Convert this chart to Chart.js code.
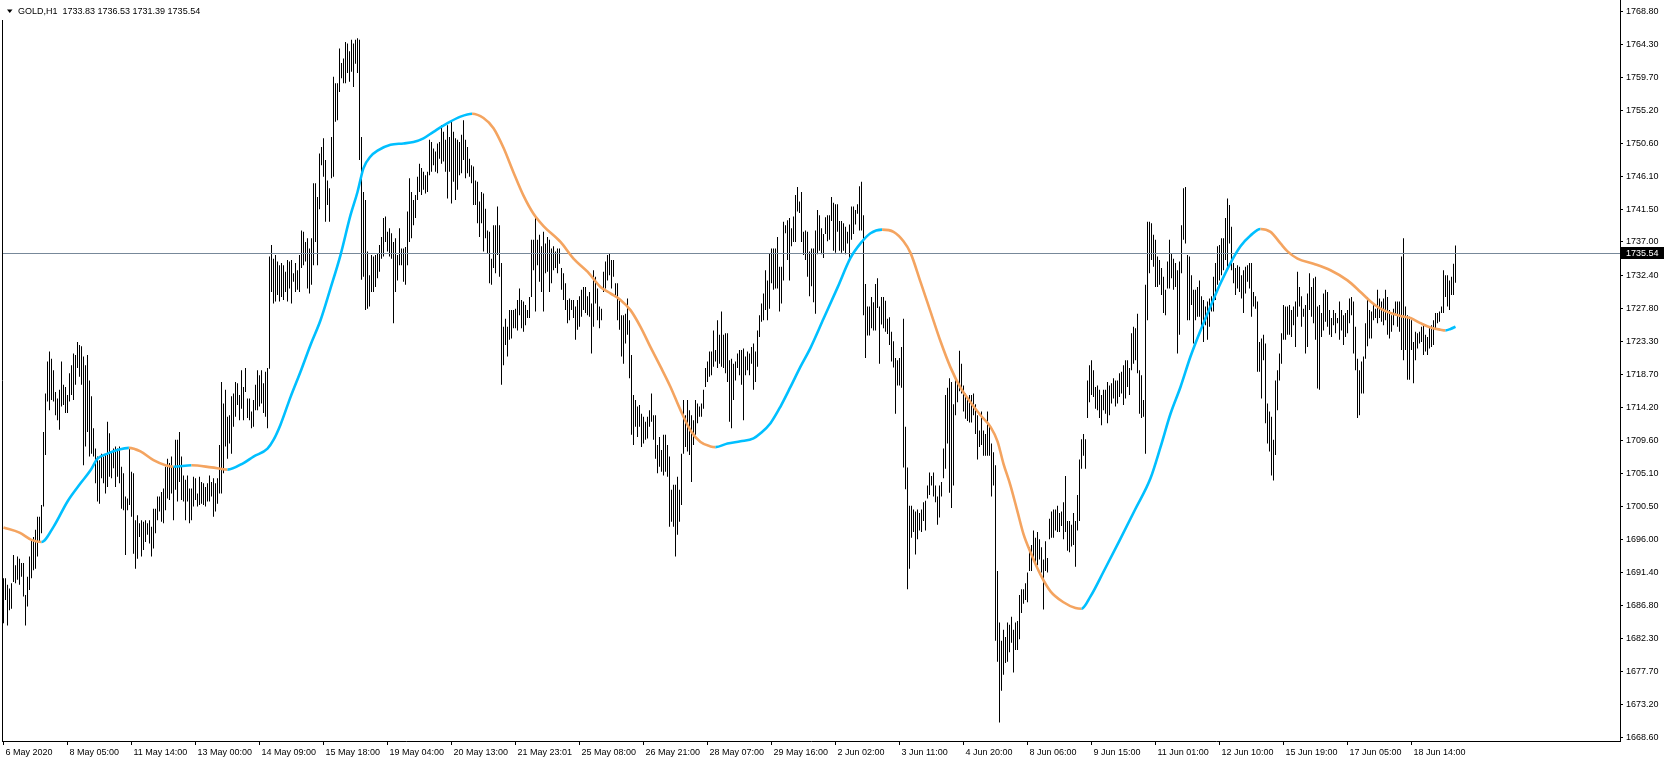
<!DOCTYPE html>
<html>
<head>
<meta charset="utf-8">
<title>GOLD,H1</title>
<script src="https://cdn.jsdelivr.net/npm/chart.js@4.4.1/dist/chart.umd.min.js"></script>
<style>
  html, body { margin: 0; padding: 0; background: #fff; }
  #wrap { width: 1666px; height: 761px; }
</style>
</head>
<body>
<div id="wrap"><canvas id="chart" width="1666" height="761"></canvas></div>
<script>
// header line and last price
const symbolTitle = 'GOLD,H1  1733.83 1736.53 1731.39 1735.54';
const lastPrice = 1735.54;

// time axis labels, one every 32 hourly bars
const xLabels = ['6 May 2020', '8 May 05:00', '11 May 14:00', '13 May 00:00', '14 May 09:00',
  '15 May 18:00', '19 May 04:00', '20 May 13:00', '21 May 23:01', '25 May 08:00', '26 May 21:00',
  '28 May 07:00', '29 May 16:00', '2 Jun 02:00', '3 Jun 11:00', '4 Jun 20:00', '8 Jun 06:00',
  '9 Jun 15:00', '11 Jun 01:00', '12 Jun 10:00', '15 Jun 19:00', '17 Jun 05:00', '18 Jun 14:00'];

// price axis labels
const yTicks = [1768.80, 1764.30, 1759.70, 1755.20, 1750.60, 1746.10, 1741.50, 1737.00, 1732.40,
  1727.80, 1723.30, 1718.70, 1714.20, 1709.60, 1705.10, 1700.50, 1696.00, 1691.40, 1686.80,
  1682.30, 1677.70, 1673.20, 1668.60];

// hourly bar highs
const highs = [
  1690.6, 1690.6, 1689.7, 1689.2, 1689.9, 1693.8, 1692.4, 1693.6, 1693.3, 1692.7,
  1692.7, 1688.3, 1690.8, 1693.6, 1695.9, 1696.3, 1697.3, 1699.1, 1699.1, 1700.7,
  1710.8, 1716.1, 1720.5, 1721.9, 1720.9, 1719.3, 1716.3, 1715.4, 1716.6, 1720.5,
  1717.3, 1717.0, 1715.9, 1718.9, 1720.0, 1721.6, 1721.4, 1723.2, 1722.8, 1722.6,
  1721.2, 1720.0, 1721.4, 1717.9, 1715.7, 1711.3, 1708.5, 1707.4, 1706.9, 1707.8,
  1707.4, 1707.6, 1712.2, 1710.6, 1708.1, 1708.5, 1708.8, 1708.5, 1708.8, 1706.0,
  1705.1, 1701.9, 1701.6, 1708.5, 1705.3, 1705.1, 1698.6, 1699.3, 1698.2, 1698.6,
  1698.4, 1698.6, 1698.2, 1698.6, 1697.7, 1700.2, 1700.2, 1701.9, 1701.9, 1702.5,
  1703.0, 1706.0, 1707.1, 1706.5, 1707.4, 1706.0, 1709.7, 1709.7, 1710.8, 1707.4,
  1704.8, 1704.2, 1704.8, 1703.0, 1703.0, 1704.6, 1704.4, 1702.3, 1704.6, 1703.9,
  1703.7, 1703.2, 1703.7, 1704.8, 1703.9, 1704.4, 1703.7, 1704.4, 1709.0, 1717.7,
  1714.7, 1716.6, 1712.9, 1713.1, 1715.7, 1716.1, 1717.7, 1717.5, 1715.9, 1719.3,
  1717.0, 1719.6, 1715.4, 1715.4, 1713.6, 1715.2, 1717.3, 1719.3, 1718.6, 1719.3,
  1717.5, 1719.1, 1719.6, 1735.0, 1736.6, 1734.7, 1735.2, 1734.3, 1733.8, 1734.1,
  1733.8, 1732.9, 1734.5, 1734.3, 1734.5, 1732.7, 1734.1, 1733.1, 1735.2, 1738.6,
  1738.4, 1737.0, 1737.5, 1736.1, 1737.5, 1745.1, 1745.1, 1743.2, 1749.2, 1750.1,
  1751.3, 1748.3, 1745.5, 1744.4, 1751.5, 1759.8, 1758.9, 1758.9, 1763.7, 1761.7,
  1762.3, 1764.6, 1764.4, 1763.3, 1764.9, 1764.4, 1764.9, 1765.1, 1764.9, 1751.5,
  1743.9, 1742.8, 1735.7, 1732.4, 1735.2, 1735.0, 1735.2, 1735.4, 1736.6, 1737.7,
  1740.3, 1740.5, 1738.4, 1738.9, 1738.2, 1737.0, 1737.5, 1735.2, 1738.9, 1736.1,
  1736.1, 1736.3, 1741.2, 1745.8, 1743.9, 1742.8, 1743.5, 1746.0, 1747.8, 1747.2,
  1746.7, 1746.2, 1746.7, 1751.1, 1750.8, 1749.9, 1749.5, 1750.6, 1750.8, 1753.1,
  1752.2, 1751.1, 1753.1, 1751.5, 1753.6, 1752.2, 1751.3, 1751.1, 1750.8, 1751.8,
  1753.8, 1751.1, 1750.1, 1748.5, 1747.6, 1747.4, 1745.5, 1745.3, 1742.6, 1743.9,
  1743.7, 1741.6, 1738.6, 1738.4, 1734.7, 1739.3, 1739.3, 1741.9, 1739.3, 1734.1,
  1725.3, 1726.4, 1725.3, 1727.6, 1727.6, 1727.6, 1727.8, 1729.0, 1730.6, 1729.0,
  1728.8, 1728.3, 1727.6, 1729.4, 1737.3, 1737.3, 1740.3, 1737.3, 1738.0, 1736.4,
  1738.4, 1736.8, 1737.7, 1737.3, 1736.1, 1736.4, 1735.7, 1736.1, 1736.1, 1733.4,
  1732.7, 1731.3, 1729.0, 1729.2, 1729.0, 1729.0, 1728.1, 1729.0, 1729.5, 1730.4,
  1730.8, 1730.8, 1729.5, 1730.1, 1728.5, 1733.1, 1732.2, 1730.6, 1728.1, 1727.8,
  1732.9, 1734.3, 1735.2, 1735.4, 1734.5, 1734.5, 1731.3, 1731.3, 1729.2, 1726.9,
  1726.9, 1727.1, 1729.2, 1726.2, 1721.4, 1715.9, 1715.2, 1714.3, 1714.5, 1713.3,
  1712.9, 1712.2, 1712.9, 1713.8, 1716.1, 1713.1, 1713.1, 1709.0, 1710.1, 1708.3,
  1710.4, 1710.4, 1709.0, 1707.4, 1702.8, 1703.5, 1703.5, 1704.6, 1702.8, 1707.8,
  1715.2, 1713.1, 1715.2, 1713.8, 1713.1, 1712.4, 1715.2, 1714.7, 1714.3, 1714.7,
  1716.6, 1719.6, 1720.5, 1721.9, 1721.9, 1724.8, 1722.1, 1726.2, 1724.2, 1727.4,
  1724.2, 1724.4, 1724.4, 1720.7, 1720.9, 1720.2, 1720.5, 1721.6, 1722.1, 1722.1,
  1722.3, 1721.2, 1721.9, 1721.6, 1722.5, 1723.0, 1721.9, 1724.8, 1726.9, 1728.5,
  1729.9, 1733.1, 1731.7, 1735.4, 1736.1, 1736.1, 1736.1, 1737.7, 1733.6, 1733.6,
  1739.8, 1739.3, 1740.0, 1740.3, 1738.9, 1740.5, 1743.5, 1744.6, 1742.6, 1743.9,
  1738.4, 1738.6, 1738.4, 1735.7, 1736.1, 1736.1, 1738.6, 1741.4, 1740.7, 1738.9,
  1738.1, 1740.4, 1740.7, 1740.7, 1743.2, 1742.4, 1742.2, 1742.2, 1739.9, 1739.9,
  1739.6, 1739.1, 1738.4, 1739.4, 1741.9, 1741.9, 1741.4, 1742.2, 1744.7, 1745.3,
  1740.7, 1731.2, 1728.1, 1728.1, 1729.4, 1728.7, 1731.2, 1732.0, 1728.1, 1729.4,
  1729.4, 1728.9, 1726.4, 1726.6, 1724.6, 1723.3, 1721.0, 1720.7, 1721.0, 1722.5,
  1726.4, 1711.5, 1705.9, 1700.6, 1700.6, 1700.1, 1699.8, 1700.1, 1699.6, 1700.1,
  1701.1, 1701.3, 1703.4, 1705.2, 1704.7, 1705.2, 1703.4, 1701.9, 1703.4, 1703.9,
  1708.5, 1715.9, 1716.9, 1718.2, 1717.7, 1714.6, 1718.4, 1717.9, 1722.0, 1720.2,
  1717.2, 1716.1, 1715.6, 1715.9, 1715.9, 1716.1, 1714.6, 1713.1, 1711.0, 1713.6,
  1711.0, 1710.5, 1713.6, 1711.5, 1709.2, 1708.0, 1706.2, 1691.6, 1684.5, 1682.0,
  1683.5, 1682.5, 1684.5, 1684.2, 1685.3, 1683.5, 1684.5, 1684.7, 1688.3, 1689.1,
  1689.1, 1689.9, 1691.4, 1694.9, 1695.2, 1697.2, 1696.2, 1697.0, 1696.0, 1694.9,
  1693.2, 1695.7, 1693.4, 1698.8, 1699.8, 1700.1, 1700.1, 1700.6, 1699.6, 1699.8,
  1701.1, 1704.7, 1698.5, 1698.5, 1698.0, 1699.6, 1698.5, 1702.1, 1707.0, 1709.8,
  1710.5, 1709.8, 1717.9, 1720.0, 1720.7, 1719.3, 1717.0, 1717.2, 1716.6, 1715.9,
  1716.6, 1716.6, 1717.7, 1717.2, 1717.5, 1718.2, 1717.9, 1717.9, 1718.9, 1719.1,
  1720.0, 1720.7, 1720.7, 1719.6, 1724.4, 1725.3, 1725.1, 1727.1, 1719.3, 1718.6,
  1715.2, 1731.1, 1739.8, 1739.8, 1739.6, 1738.0, 1737.3, 1735.0, 1734.5, 1733.4,
  1732.2, 1730.4, 1734.3, 1737.3, 1735.4, 1734.7, 1734.1, 1733.1, 1734.3, 1739.3,
  1744.4, 1744.6, 1735.2, 1735.0, 1732.4, 1730.4, 1730.4, 1730.8, 1731.7, 1729.5,
  1729.0, 1728.1, 1728.8, 1729.2, 1729.5, 1732.2, 1734.1, 1736.4, 1736.6, 1737.5,
  1737.5, 1740.3, 1743.0, 1742.1, 1739.1, 1734.1, 1733.4, 1733.8, 1733.6, 1732.4,
  1733.1, 1733.6, 1733.8, 1734.1, 1734.1, 1730.1, 1729.5, 1728.8, 1723.2, 1723.7,
  1724.2, 1723.0, 1714.7, 1713.6, 1712.9, 1709.7, 1717.9, 1719.3, 1721.6, 1724.4,
  1728.3, 1728.1, 1728.1, 1728.3, 1727.6, 1728.1, 1728.8, 1732.9, 1730.8, 1729.5,
  1727.8, 1728.3, 1729.9, 1732.7, 1730.8, 1732.0, 1732.2, 1728.1, 1728.3, 1727.2,
  1729.9, 1730.4, 1730.1, 1727.6, 1726.5, 1727.6, 1727.2, 1726.5, 1728.8, 1727.6,
  1726.9, 1727.2, 1727.6, 1729.2, 1729.4, 1728.8, 1725.3, 1720.9, 1719.3, 1720.5,
  1721.2, 1725.8, 1729.4, 1727.6, 1727.4, 1728.5, 1727.8, 1730.4, 1729.2, 1728.8,
  1729.2, 1730.4, 1729.4, 1727.6, 1726.9, 1727.8, 1728.8, 1728.8, 1728.8, 1735.0,
  1737.5, 1728.1, 1726.9, 1726.7, 1726.2, 1723.2, 1724.6, 1724.4, 1724.6, 1725.3,
  1725.5, 1724.2, 1723.9, 1725.3, 1725.5, 1726.2, 1727.2, 1727.2, 1727.4, 1728.1,
  1733.1, 1732.4, 1732.4, 1731.7, 1732.2, 1734.0, 1736.53
];

// hourly bar lows
const lows = [
  1684.4, 1687.6, 1684.1, 1686.2, 1686.4, 1690.1, 1689.9, 1690.4, 1689.7, 1690.8,
  1688.1, 1684.1, 1686.7, 1689.0, 1690.6, 1691.7, 1691.9, 1693.6, 1695.7, 1696.8,
  1700.5, 1707.6, 1715.0, 1713.8, 1715.2, 1715.0, 1713.1, 1712.4, 1711.1, 1714.3,
  1714.5, 1713.4, 1713.4, 1715.0, 1715.9, 1715.2, 1717.3, 1719.6, 1718.4, 1717.3,
  1706.2, 1708.8, 1710.8, 1707.4, 1707.8, 1707.4, 1703.7, 1701.2, 1700.9, 1704.4,
  1703.7, 1702.3, 1703.2, 1704.6, 1704.4, 1705.8, 1703.2, 1704.6, 1703.7, 1700.2,
  1700.0, 1693.8, 1700.0, 1700.7, 1699.1, 1694.0, 1691.9, 1693.3, 1696.3, 1693.6,
  1694.5, 1695.6, 1696.6, 1695.4, 1693.6, 1694.7, 1696.8, 1698.6, 1699.8, 1698.4,
  1698.2, 1700.0, 1701.6, 1701.4, 1702.3, 1698.6, 1702.8, 1701.2, 1703.9, 1701.4,
  1701.2, 1698.6, 1701.2, 1698.2, 1698.6, 1700.5, 1701.4, 1700.5, 1700.7, 1700.9,
  1700.7, 1700.5, 1701.2, 1701.2, 1701.9, 1699.1, 1699.8, 1700.9, 1702.3, 1702.3,
  1705.1, 1708.8, 1707.1, 1709.2, 1707.8, 1711.5, 1712.9, 1714.5, 1712.4, 1714.0,
  1712.4, 1716.3, 1712.7, 1712.4, 1711.3, 1711.5, 1713.8, 1713.8, 1714.3, 1714.7,
  1713.4, 1712.9, 1711.3, 1719.5, 1730.1, 1728.5, 1728.8, 1729.7, 1728.8, 1729.4,
  1729.0, 1730.1, 1728.8, 1730.6, 1728.5, 1731.5, 1730.1, 1730.4, 1730.1, 1733.4,
  1733.8, 1734.3, 1730.6, 1729.9, 1731.1, 1733.8, 1737.0, 1733.8, 1741.5, 1747.6,
  1746.0, 1739.8, 1742.1, 1739.8, 1745.8, 1746.0, 1753.6, 1753.8, 1757.7, 1759.6,
  1758.9, 1758.9, 1760.3, 1759.1, 1760.5, 1758.4, 1761.6, 1760.3, 1748.3, 1731.8,
  1732.2, 1727.6, 1727.8, 1728.1, 1730.1, 1730.1, 1730.8, 1732.0, 1732.9, 1734.7,
  1735.0, 1737.0, 1735.7, 1735.0, 1734.7, 1725.8, 1730.1, 1731.7, 1733.8, 1733.8,
  1731.5, 1731.1, 1733.8, 1737.0, 1737.5, 1739.3, 1740.3, 1742.8, 1743.9, 1743.5,
  1744.2, 1743.7, 1743.9, 1746.2, 1746.7, 1747.6, 1746.7, 1746.5, 1748.5, 1747.8,
  1748.1, 1746.7, 1743.0, 1746.7, 1742.3, 1745.3, 1742.8, 1744.2, 1746.2, 1746.5,
  1748.3, 1745.8, 1746.5, 1746.0, 1745.1, 1742.1, 1742.1, 1739.6, 1737.7, 1739.6,
  1735.7, 1737.5, 1735.4, 1731.3, 1731.1, 1733.4, 1732.7, 1735.2, 1732.2, 1717.3,
  1720.0, 1722.8, 1721.2, 1723.5, 1723.7, 1725.1, 1725.1, 1724.8, 1726.9, 1725.1,
  1724.6, 1725.5, 1726.5, 1726.5, 1729.4, 1733.1, 1727.4, 1733.8, 1731.5, 1730.1,
  1727.4, 1732.7, 1732.9, 1730.1, 1731.3, 1733.1, 1733.4, 1732.7, 1734.0, 1730.4,
  1729.0, 1727.6, 1725.8, 1726.2, 1727.6, 1726.5, 1723.5, 1724.9, 1725.3, 1726.7,
  1727.6, 1727.2, 1726.9, 1726.7, 1721.6, 1725.3, 1728.5, 1726.2, 1725.1, 1726.2,
  1730.1, 1730.6, 1731.7, 1732.4, 1730.6, 1732.2, 1729.5, 1726.2, 1724.9, 1721.2,
  1720.2, 1723.0, 1724.2, 1718.2, 1710.4, 1709.0, 1711.5, 1710.1, 1711.5, 1708.7,
  1709.2, 1709.7, 1709.9, 1711.5, 1712.2, 1709.7, 1707.1, 1705.1, 1706.0, 1705.3,
  1704.8, 1705.3, 1704.6, 1697.7, 1698.4, 1697.7, 1693.6, 1696.6, 1698.4, 1700.7,
  1707.8, 1708.7, 1708.1, 1707.6, 1703.9, 1709.0, 1710.4, 1712.0, 1712.9, 1712.9,
  1714.0, 1717.0, 1717.7, 1718.4, 1718.6, 1719.8, 1720.5, 1719.6, 1720.2, 1719.8,
  1719.6, 1718.9, 1717.7, 1712.2, 1711.3, 1715.2, 1717.9, 1719.6, 1718.6, 1717.3,
  1712.4, 1718.6, 1719.3, 1718.6, 1720.2, 1716.6, 1717.7, 1719.8, 1723.9, 1726.0,
  1726.2, 1727.6, 1726.2, 1727.8, 1731.3, 1730.4, 1730.6, 1730.6, 1727.4, 1728.5,
  1731.7, 1738.2, 1734.5, 1731.7, 1736.4, 1737.0, 1737.0, 1741.2, 1741.0, 1737.0,
  1735.2, 1734.5, 1732.2, 1729.5, 1730.9, 1728.7, 1727.1, 1735.3, 1735.8, 1735.3,
  1734.8, 1738.1, 1737.1, 1737.3, 1739.9, 1735.8, 1735.5, 1738.4, 1735.8, 1735.5,
  1735.8, 1735.3, 1736.8, 1734.8, 1737.3, 1738.1, 1739.4, 1740.9, 1738.6, 1738.6,
  1726.9, 1721.0, 1724.1, 1724.1, 1725.1, 1724.8, 1724.8, 1727.9, 1720.2, 1725.6,
  1725.1, 1724.6, 1724.3, 1722.8, 1720.5, 1719.7, 1713.3, 1717.2, 1717.2, 1716.9,
  1705.9, 1702.9, 1689.1, 1691.9, 1696.2, 1697.0, 1693.9, 1696.0, 1697.2, 1697.0,
  1698.5, 1697.2, 1701.6, 1702.1, 1703.4, 1701.9, 1701.1, 1698.0, 1699.0, 1701.9,
  1704.4, 1705.7, 1709.2, 1702.4, 1700.3, 1703.4, 1713.1, 1714.9, 1716.4, 1716.1,
  1713.6, 1712.6, 1712.3, 1712.1, 1712.1, 1713.1, 1710.5, 1707.0, 1708.7, 1709.0,
  1707.5, 1707.5, 1707.5, 1707.5, 1701.9, 1703.4, 1682.0, 1679.1, 1670.7, 1675.1,
  1677.3, 1678.9, 1679.1, 1680.4, 1681.7, 1677.6, 1680.7, 1680.7, 1682.2, 1685.8,
  1687.1, 1687.6, 1687.3, 1691.6, 1691.6, 1693.2, 1692.7, 1692.4, 1693.2, 1691.4,
  1686.3, 1691.6, 1691.4, 1696.0, 1696.2, 1696.2, 1697.2, 1697.0, 1697.0, 1697.8,
  1696.0, 1697.0, 1694.4, 1694.2, 1695.0, 1695.2, 1692.2, 1697.2, 1698.5, 1705.7,
  1707.5, 1705.7, 1712.7, 1714.9, 1715.9, 1715.6, 1714.0, 1713.8, 1712.7, 1711.7,
  1713.8, 1713.3, 1712.0, 1713.1, 1714.7, 1715.4, 1714.3, 1714.7, 1715.6, 1716.1,
  1714.5, 1715.4, 1717.0, 1715.9, 1719.3, 1720.2, 1720.7, 1718.9, 1713.3, 1712.7,
  1712.9, 1707.8, 1726.2, 1732.7, 1734.5, 1733.6, 1730.8, 1730.8, 1731.1, 1729.7,
  1727.2, 1726.9, 1730.6, 1730.6, 1732.0, 1730.4, 1730.8, 1721.6, 1724.2, 1732.7,
  1737.3, 1736.8, 1726.2, 1726.2, 1728.3, 1723.0, 1726.2, 1726.7, 1726.7, 1725.3,
  1723.2, 1725.5, 1723.5, 1725.3, 1727.4, 1727.4, 1729.0, 1731.1, 1731.7, 1732.4,
  1733.1, 1734.5, 1733.6, 1736.8, 1733.1, 1731.3, 1729.7, 1730.6, 1730.1, 1729.2,
  1727.2, 1729.9, 1731.5, 1730.6, 1726.7, 1728.1, 1727.8, 1719.1, 1719.1, 1715.4,
  1720.7, 1712.0, 1709.2, 1708.1, 1704.8, 1704.1, 1707.6, 1713.8, 1717.9, 1720.2,
  1723.5, 1723.5, 1724.2, 1724.2, 1723.9, 1725.5, 1722.5, 1726.7, 1728.1, 1725.3,
  1726.7, 1721.6, 1722.5, 1727.6, 1726.7, 1725.8, 1723.5, 1716.8, 1716.6, 1723.9,
  1724.8, 1726.0, 1725.3, 1724.2, 1723.9, 1725.5, 1724.4, 1725.8, 1723.5, 1724.8,
  1722.8, 1723.9, 1724.4, 1725.8, 1726.9, 1721.6, 1719.3, 1712.7, 1713.1, 1716.1,
  1716.1, 1720.9, 1722.6, 1723.7, 1723.7, 1726.2, 1726.5, 1725.8, 1726.5, 1726.0,
  1725.5, 1726.2, 1724.2, 1723.7, 1724.6, 1725.5, 1726.9, 1725.3, 1724.6, 1722.1,
  1720.7, 1722.1, 1718.0, 1718.0, 1722.1, 1717.5, 1720.7, 1722.3, 1723.0, 1723.2,
  1721.4, 1721.9, 1721.4, 1722.3, 1722.5, 1722.8, 1724.9, 1725.8, 1726.0, 1727.2,
  1727.2, 1729.4, 1728.1, 1727.6, 1729.7, 1729.7, 1731.39
];

// smoothed average (bar index, price)
const maBars = [0, 8, 14, 19, 25, 32, 38.5, 43.5, 47, 52, 57, 62.7, 68.5, 75, 81, 85, 94, 104, 112,
  120, 125, 132, 135, 138.5, 143.5, 148.5, 153.5, 158.5, 163.5, 168.5, 173.5, 177, 180, 183.5, 187,
  193.5, 200, 205, 210, 215, 222, 228.5, 234.3, 240, 245, 250, 255, 260, 265, 270, 278.5, 285, 292,
  298.5, 303.5, 308.5, 313.5, 318.5, 323.5, 328.5, 333.5, 338.5, 343.5, 348.5, 353.5, 356, 362,
  368.5, 375, 378.5, 383.5, 388.5, 393.5, 398.5, 403.5, 410, 417, 423.5, 428.5, 433.5, 439.3, 445,
  450, 453.5, 458.5, 463.5, 468.5, 473.5, 478.5, 483.5, 488.5, 493.5, 497, 500, 503.5, 507, 510,
  513.5, 518.5, 523.5, 530, 536, 539, 543.5, 550, 558, 566, 573.5, 578.5, 583.5, 588.5, 593.5,
  598.5, 603.5, 608.5, 613.5, 618.5, 623.5, 628.5, 633.5, 638.5, 642, 647, 655, 663.5, 672, 678.5,
  683.5, 688.5, 693.5, 698.5, 703.5, 708.5, 713.5, 718.5, 721, 723.5, 726];
const maValues = [1697.6, 1696.9, 1695.9, 1695.6, 1697.7, 1701.2, 1703.7, 1705.5, 1707.1, 1707.8,
  1708.3, 1708.6, 1708.1, 1706.9, 1706.2, 1706.0, 1706.2, 1705.9, 1705.6, 1706.5, 1707.4, 1708.5,
  1709.7, 1711.8, 1715.6, 1719.1, 1722.8, 1726.2, 1730.6, 1735.2, 1740.7, 1743.9, 1747.2, 1748.8,
  1749.6, 1750.4, 1750.6, 1750.8, 1751.3, 1752.2, 1753.4, 1754.3, 1754.7, 1754.1, 1752.7, 1750.0,
  1746.6, 1743.4, 1740.9, 1739.2, 1737.0, 1734.7, 1732.9, 1730.8, 1729.9, 1729.0, 1727.6, 1725.3,
  1722.5, 1719.8, 1717.0, 1713.8, 1711.0, 1709.4, 1708.8, 1708.7, 1709.2, 1709.5, 1709.9, 1710.6,
  1712.0, 1714.3, 1717.0, 1719.8, 1722.4, 1726.4, 1730.7, 1734.8, 1736.8, 1738.2, 1738.7, 1738.4,
  1737.1, 1735.5, 1731.5, 1727.4, 1723.3, 1719.7, 1716.9, 1714.9, 1713.1, 1711.5, 1709.5, 1706.4,
  1703.4, 1699.8, 1696.7, 1694.2, 1691.1, 1688.8, 1687.3, 1686.5, 1686.4, 1688.1, 1691.5, 1695.8,
  1700.2, 1704.4, 1708.7, 1713.3, 1717.0, 1721.2, 1724.8, 1728.1, 1731.3, 1734.1, 1736.4, 1737.9,
  1738.8, 1738.4, 1736.8, 1735.7, 1734.7, 1734.0, 1733.1, 1731.7, 1730.1, 1728.8, 1727.8, 1727.2,
  1726.8, 1726.5, 1725.8, 1725.2, 1724.9, 1724.8, 1725.0, 1725.3];

// scale window (matches the terminal's pixel grid)
const xMin = -0.75, xMax = 808.25;
const yMin = 1668.152, yMax = 1770.387;

const FONT = { family: 'Liberation Sans', size: 9 };
const UP = '#00BFFF', DOWN = '#F4A460';

const overlay = {
  id: 'overlay',
  afterDatasetDraw(chart, args) {
    if (args.index !== 0) return;
    // current price line, above the bars but under the average
    const { ctx, chartArea: a, scales: { y } } = chart;
    const py = Math.round(y.getPixelForValue(lastPrice)) + 0.5;
    ctx.save();
    ctx.strokeStyle = '#778899';
    ctx.lineWidth = 1;
    ctx.beginPath();
    ctx.moveTo(a.left, py);
    ctx.lineTo(a.right, py);
    ctx.stroke();
    ctx.restore();
  },
  afterDraw(chart) {
    const { ctx, chartArea: a, scales: { y } } = chart;
    ctx.save();
    // left frame
    ctx.strokeStyle = '#000';
    ctx.lineWidth = 1;
    ctx.beginPath();
    ctx.moveTo(a.left + 0.5, 20);
    ctx.lineTo(a.left + 0.5, a.bottom);
    ctx.stroke();
    // header
    ctx.fillStyle = '#000';
    ctx.beginPath();
    ctx.moveTo(7, 9.5);
    ctx.lineTo(12.5, 9.5);
    ctx.lineTo(9.75, 13);
    ctx.closePath();
    ctx.fill();
    ctx.font = FONT.size + 'px "' + FONT.family + '"';
    ctx.textBaseline = 'middle';
    ctx.textAlign = 'left';
    ctx.fillText(symbolTitle, 18, 11.5);
    // price tag on the axis
    const py = Math.round(y.getPixelForValue(lastPrice));
    ctx.fillRect(a.right + 1, py - 6, 43, 12);
    ctx.fillStyle = '#fff';
    ctx.fillText(lastPrice.toFixed(2), a.right + 6, py + 0.5);
    ctx.restore();
  }
};

const barData = highs.map((h, i) => ({ x: i, y: [lows[i], h] }));
const maData = maBars.map((b, i) => ({ x: b, y: maValues[i] }));

new Chart(document.getElementById('chart'), {
  type: 'bar',
  data: {
    datasets: [
      {
        type: 'bar',
        data: barData,
        backgroundColor: '#000',
        borderWidth: 0,
        inflateAmount: 0,
        barThickness: 1,
        grouped: false,
        order: 2
      },
      {
        type: 'line',
        data: maData,
        borderWidth: 2.6,
        pointRadius: 0,
        fill: false,
        cubicInterpolationMode: 'monotone',
        borderColor: UP,
        segment: {
          borderColor: c => (c.p1.parsed.y >= c.p0.parsed.y ? UP : DOWN)
        },
        order: 1
      }
    ]
  },
  options: {
    responsive: false,
    animation: false,
    devicePixelRatio: 1,
    events: [],
    layout: { padding: { left: 2, top: 0, right: 0, bottom: 0 } },
    plugins: { legend: { display: false }, tooltip: { enabled: false } },
    scales: {
      x: {
        type: 'linear',
        position: 'bottom',
        min: xMin,
        max: xMax,
        offset: false,
        afterBuildTicks: s => { s.ticks = xLabels.map((_, k) => ({ value: k * 32 })); },
        afterFit: s => { s.height = 20; s.paddingLeft = 0; s.paddingRight = 0; },
        ticks: {
          autoSkip: false,
          maxRotation: 0,
          align: 'start',
          labelOffset: 2,
          padding: 2,
          color: '#000',
          font: FONT,
          callback: (v, idx) => xLabels[idx]
        },
        grid: { drawOnChartArea: false, offset: false, tickLength: 4, color: '#000' },
        border: { display: true, color: '#000' }
      },
      y: {
        type: 'linear',
        position: 'right',
        min: yMin,
        max: yMax,
        afterBuildTicks: s => { s.ticks = yTicks.map(v => ({ value: v })); },
        afterFit: s => { s.width = 46; s.paddingTop = 0; s.paddingBottom = 0; },
        ticks: {
          padding: 3,
          color: '#000',
          font: FONT,
          callback: v => Number(v).toFixed(2)
        },
        grid: { drawOnChartArea: false, tickLength: 3, color: '#000' },
        border: { display: true, color: '#000' }
      }
    }
  },
  plugins: [overlay]
});
</script>
</body>
</html>
